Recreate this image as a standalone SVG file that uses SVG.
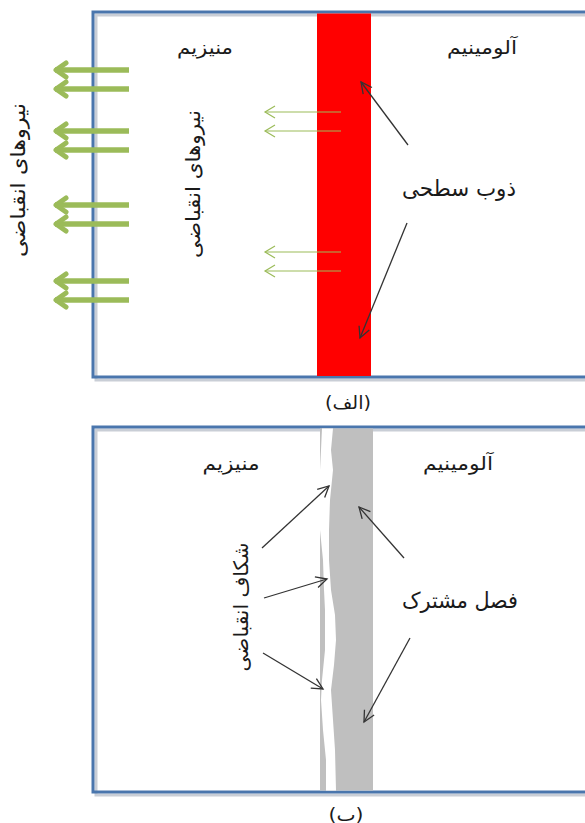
<svg xmlns="http://www.w3.org/2000/svg" width="585" height="823" viewBox="0 0 585 823">
<style>
text{font-family:"DejaVu Sans","Noto Sans",sans-serif;fill:#1a1a1a;text-anchor:middle;dominant-baseline:central}
.frame{fill:none;stroke:#4a76ad;stroke-width:3}
.shadow{fill:none;stroke:#c9ced6;stroke-width:3}
.blk{fill:none;stroke:#333;stroke-width:1.3}
.gthin{fill:none;stroke:#9bbb59;stroke-width:1.2}
.gthick{fill:none;stroke:#9bbb59;stroke-width:5.5}
</style>
<defs>
<marker id="mb" viewBox="0 0 14 14" refX="12" refY="7" markerWidth="14" markerHeight="14" markerUnits="userSpaceOnUse" orient="auto">
<path d="M1 1.5 L12 7 L1 12.5" fill="none" stroke="#333" stroke-width="1.3"/>
</marker>
<marker id="mg" viewBox="0 0 14 14" refX="12" refY="7" markerWidth="14" markerHeight="14" markerUnits="userSpaceOnUse" orient="auto">
<path d="M2 1 L12 7 L2 13" fill="none" stroke="#9bbb59" stroke-width="1.2"/>
</marker>
<marker id="mG" viewBox="0 0 24 24" refX="19" refY="12" markerWidth="24" markerHeight="24" markerUnits="userSpaceOnUse" orient="auto">
<path d="M8 5 L18 12 L8 19" fill="none" stroke="#9bbb59" stroke-width="5" stroke-linejoin="round" stroke-linecap="round"/>
</marker>
</defs>

<g id="panel-a">
<polyline class="shadow" points="585,15 96,15 96,380 585,380"/>
<polyline class="frame" points="585,12 93,12 93,377 585,377"/>
<rect x="317" y="13.5" width="54" height="362.5" fill="#ff0000"/>
</g>

<g id="panel-b">
<polyline class="shadow" points="585,430 96,430 96,795 585,795"/>
<polyline class="frame" points="585,427 93,427 93,792 585,792"/>
<rect x="320" y="428.5" width="53" height="362" fill="#bfbfbf"/>
<path id="crack" fill="#ffffff" d="M322,428.5 L321,450 L320,470 L319,500 L320,530 L323,560 L324,590 L325,610 L325,650 L322,680 L321,700 L323,730 L326,760 L326,790.5 L336,790.5 L335,750 L333,720 L331,690 L334,665 L336,640 L335,615 L331,590 L329,560 L329,530 L330,500 L333,470 L331,450 L333,428.5 Z"/>
</g>

<g id="labels-a">
<text x="205" y="47" font-size="19" textLength="56" lengthAdjust="spacingAndGlyphs">منیزیم</text>
<text x="482" y="47" font-size="19" textLength="70" lengthAdjust="spacingAndGlyphs">آلومینیم</text>
<text x="459" y="188" font-size="22" textLength="114" lengthAdjust="spacingAndGlyphs">ذوب سطحی</text>
<text x="348" y="402" font-size="18" textLength="46" lengthAdjust="spacingAndGlyphs">(الف)</text>
<text transform="translate(18,180) rotate(-90)" font-size="20" textLength="154" lengthAdjust="spacingAndGlyphs">نیروهای انقباضی</text>
<text transform="translate(193,184) rotate(-90)" font-size="20" textLength="148" lengthAdjust="spacingAndGlyphs">نیروهای انقباضی</text>
</g>

<g id="labels-b">
<text x="231" y="463" font-size="19" textLength="57" lengthAdjust="spacingAndGlyphs">منیزیم</text>
<text x="458" y="463" font-size="19" textLength="70" lengthAdjust="spacingAndGlyphs">آلومینیم</text>
<text x="460" y="600" font-size="22" textLength="116" lengthAdjust="spacingAndGlyphs">فصل مشترک</text>
<text x="346" y="814" font-size="18" textLength="35" lengthAdjust="spacingAndGlyphs">(ب)</text>
<text transform="translate(241,607) rotate(-90)" font-size="20" textLength="129" lengthAdjust="spacingAndGlyphs">شکاف انقباضی</text>
</g>

<g id="connectors">
<line class="gthick" x1="129" y1="70" x2="55" y2="70" marker-end="url(#mG)"/>
<line class="gthick" x1="129" y1="89" x2="55" y2="89" marker-end="url(#mG)"/>
<line class="gthick" x1="129" y1="131" x2="55" y2="131" marker-end="url(#mG)"/>
<line class="gthick" x1="129" y1="150" x2="55" y2="150" marker-end="url(#mG)"/>
<line class="gthick" x1="129" y1="205" x2="55" y2="205" marker-end="url(#mG)"/>
<line class="gthick" x1="129" y1="224" x2="55" y2="224" marker-end="url(#mG)"/>
<line class="gthick" x1="129" y1="281" x2="55" y2="281" marker-end="url(#mG)"/>
<line class="gthick" x1="129" y1="300" x2="55" y2="300" marker-end="url(#mG)"/>
<line class="gthin" x1="341" y1="112" x2="265" y2="112" marker-end="url(#mg)"/>
<line class="gthin" x1="341" y1="131" x2="265" y2="131" marker-end="url(#mg)"/>
<line class="gthin" x1="341" y1="252" x2="265" y2="252" marker-end="url(#mg)"/>
<line class="gthin" x1="341" y1="271" x2="265" y2="271" marker-end="url(#mg)"/>
<line class="blk" x1="408" y1="145" x2="361" y2="82" marker-end="url(#mb)"/>
<line class="blk" x1="407" y1="223" x2="360" y2="338" marker-end="url(#mb)"/>
<line class="blk" x1="262" y1="548" x2="329" y2="486" marker-end="url(#mb)"/>
<line class="blk" x1="264" y1="598" x2="327" y2="579" marker-end="url(#mb)"/>
<line class="blk" x1="263" y1="653" x2="323" y2="689" marker-end="url(#mb)"/>
<line class="blk" x1="404" y1="558" x2="359" y2="507" marker-end="url(#mb)"/>
<line class="blk" x1="410" y1="638" x2="364" y2="722" marker-end="url(#mb)"/>
</g>
</svg>
